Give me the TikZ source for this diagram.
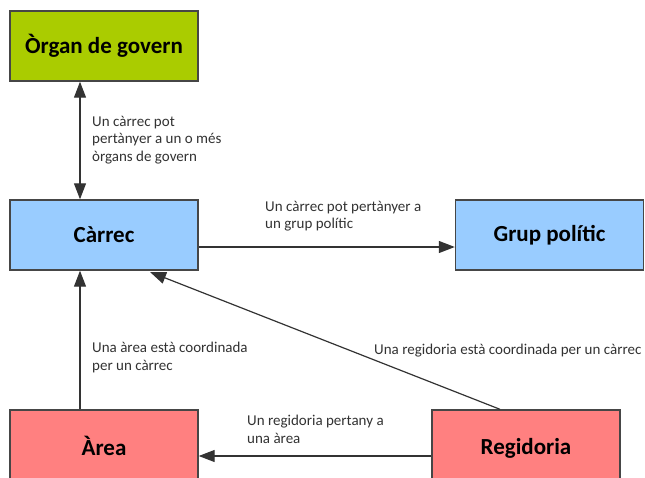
\documentclass[tikz,border=0pt]{standalone}
\usepackage{fontspec}
\setmainfont{Carlito}
\usetikzlibrary{arrows.meta}
\definecolor{cgreen}{RGB}{170,204,0}
\definecolor{cblue}{RGB}{153,204,255}
\definecolor{cred}{RGB}{255,128,128}
\definecolor{cborder}{RGB}{70,70,70}
\definecolor{ctext}{RGB}{50,50,50}
\begin{document}
\begin{tikzpicture}[x=1pt,y=-1pt,
  entity/.style={draw=cborder,line width=1.4pt,minimum width=188pt,minimum height=70pt,inner sep=0pt,font=\fontsize{23}{26}\selectfont\bfseries},
  lbl/.style={align=left,anchor=north west,inner sep=0pt,text=ctext,font=\fontsize{15}{17.5}\selectfont},
  tip/.style={Triangle[length=16pt,width=12pt]},
  conn/.style={draw=black!80,line width=1.2pt,-{Triangle[length=16pt,width=12pt]}}]
\useasboundingbox (0,0) rectangle (645,477);
\node[entity,fill=cgreen] (organ) at (104,46) {Òrgan de govern};
\node[entity,fill=cblue] (carrec) at (104,235) {Càrrec};
\node[entity,fill=cblue] (grup) at (549.5,235) {Grup polític};
\node[entity,fill=cred,minimum height=80pt] (area) at (104,450) {\raisebox{8pt}{Àrea}};
\node[entity,fill=cred,minimum height=80pt] (regi) at (526,450) {\raisebox{8pt}{Regidoria}};
\coordinate (o1) at (80,81);
\coordinate (c1) at (80,199);
\draw[conn,{Triangle[length=16pt,width=12pt]}-{Triangle[length=16pt,width=12pt]}] (organ.south -| o1) -- (carrec.north -| c1);
\draw[conn] (carrec.east |- 0,247) -- (grup.west |- 0,247);
\coordinate (a1) at (80,410);
\draw[conn] (area.north -| a1) -- (carrec.south -| a1);
\coordinate (r1) at (500,410);
\coordinate (c2) at (150,272);
\draw[conn] (regi.north -| r1) -- (c2);
\draw[conn] (regi.west |- 0,456) -- (area.east |- 0,456);
\node[lbl] (l1) at (92,116) {Un càrrec pot\\pertànyer a un o més\\òrgans de govern};
\node[lbl] (l2) at (265,201) {Un càrrec pot pertànyer a\\un grup polític};
\node[lbl] (l3) at (92,342) {Una àrea està coordinada\\per un càrrec};
\node[lbl] (l4) at (374,344) {Una regidoria està coordinada per un càrrec};
\node[lbl] (l5) at (247,415) {Un regidoria pertany a\\una àrea};
\end{tikzpicture}
\end{document}
